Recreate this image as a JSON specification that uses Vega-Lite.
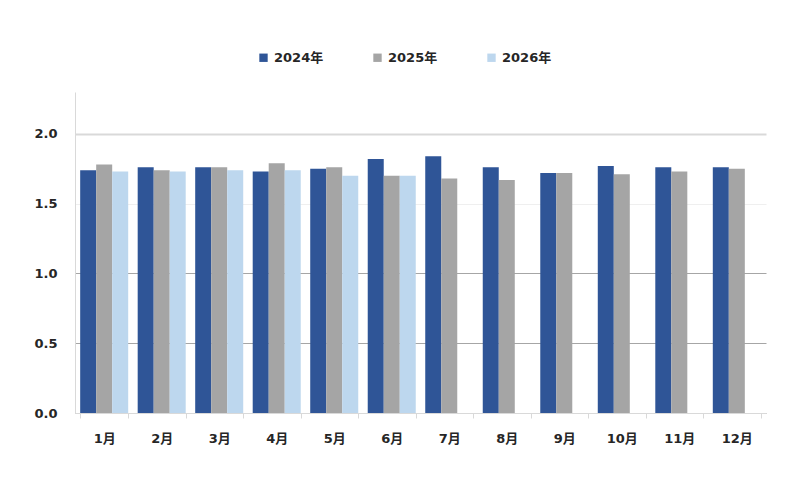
{
  "$schema": "https://vega.github.io/schema/vega-lite/v6.json",
  "autosize": "none",
  "width": 691,
  "height": 321,
  "padding": {"left": 75, "top": 92, "right": 34, "bottom": 67},
  "background": "white",
  "config": {
    "font": "DejaVu Sans, Noto Sans CJK JP",
    "view": {"stroke": null}
  },
  "data": {
    "values": [
      {"month": "1月", "year": "2024年", "value": 1.74},
      {"month": "1月", "year": "2025年", "value": 1.78},
      {"month": "1月", "year": "2026年", "value": 1.73},
      {"month": "2月", "year": "2024年", "value": 1.76},
      {"month": "2月", "year": "2025年", "value": 1.74},
      {"month": "2月", "year": "2026年", "value": 1.73},
      {"month": "3月", "year": "2024年", "value": 1.76},
      {"month": "3月", "year": "2025年", "value": 1.76},
      {"month": "3月", "year": "2026年", "value": 1.74},
      {"month": "4月", "year": "2024年", "value": 1.73},
      {"month": "4月", "year": "2025年", "value": 1.79},
      {"month": "4月", "year": "2026年", "value": 1.74},
      {"month": "5月", "year": "2024年", "value": 1.75},
      {"month": "5月", "year": "2025年", "value": 1.76},
      {"month": "5月", "year": "2026年", "value": 1.70},
      {"month": "6月", "year": "2024年", "value": 1.82},
      {"month": "6月", "year": "2025年", "value": 1.70},
      {"month": "6月", "year": "2026年", "value": 1.70},
      {"month": "7月", "year": "2024年", "value": 1.84},
      {"month": "7月", "year": "2025年", "value": 1.68},
      {"month": "8月", "year": "2024年", "value": 1.76},
      {"month": "8月", "year": "2025年", "value": 1.67},
      {"month": "9月", "year": "2024年", "value": 1.72},
      {"month": "9月", "year": "2025年", "value": 1.72},
      {"month": "10月", "year": "2024年", "value": 1.77},
      {"month": "10月", "year": "2025年", "value": 1.71},
      {"month": "11月", "year": "2024年", "value": 1.76},
      {"month": "11月", "year": "2025年", "value": 1.73},
      {"month": "12月", "year": "2024年", "value": 1.76},
      {"month": "12月", "year": "2025年", "value": 1.75}
    ]
  },
  "mark": {"type": "bar"},
  "encoding": {
    "x": {
      "field": "month",
      "type": "nominal",
      "sort": ["1月", "2月", "3月", "4月", "5月", "6月", "7月", "8月", "9月", "10月", "11月", "12月"],
      "scale": {"paddingInner": 0.165, "paddingOuter": 0.09},
      "axis": {
        "title": null,
        "labelAngle": 0,
        "labelFontSize": 13,
        "labelFontWeight": "bold",
        "labelColor": "#262626",
        "labelPadding": 14,
        "domainColor": "#d9d9d9",
        "ticks": true,
        "tickBand": "extent",
        "tickSize": 5,
        "tickColor": "#d9d9d9"
      }
    },
    "xOffset": {
      "field": "year",
      "type": "nominal",
      "sort": ["2024年", "2025年", "2026年"],
      "scale": {"paddingInner": 0}
    },
    "y": {
      "field": "value",
      "type": "quantitative",
      "scale": {"domain": [0, 2.3], "nice": false},
      "axis": {
        "title": null,
        "values": [0, 0.5, 1, 1.5, 2],
        "format": ".1f",
        "labelFontSize": 13,
        "labelFontWeight": "bold",
        "labelColor": "#262626",
        "labelPadding": 18,
        "ticks": false,
        "domainColor": "#d9d9d9",
        "grid": true,
        "gridColor": {
          "condition": [
            {"test": "datum.value == 2", "value": "#d9d9d9"},
            {"test": "datum.value == 1.5", "value": "#efefef"}
          ],
          "value": "#a6a6a6"
        },
        "gridWidth": {
          "condition": {"test": "datum.value == 2", "value": 2},
          "value": 1
        }
      }
    },
    "color": {
      "field": "year",
      "type": "nominal",
      "sort": ["2024年", "2025年", "2026年"],
      "scale": {
        "domain": ["2024年", "2025年", "2026年"],
        "range": ["#2f5597", "#a5a5a5", "#bdd7ee"]
      },
      "legend": {
        "title": null,
        "orient": "none",
        "legendX": 182,
        "legendY": -41,
        "direction": "horizontal",
        "symbolType": "square",
        "symbolSize": 70,
        "symbolStrokeWidth": 0,
        "labelFontSize": 13,
        "labelFontWeight": "bold",
        "labelColor": "#262626",
        "columnPadding": 47
      }
    }
  }
}
